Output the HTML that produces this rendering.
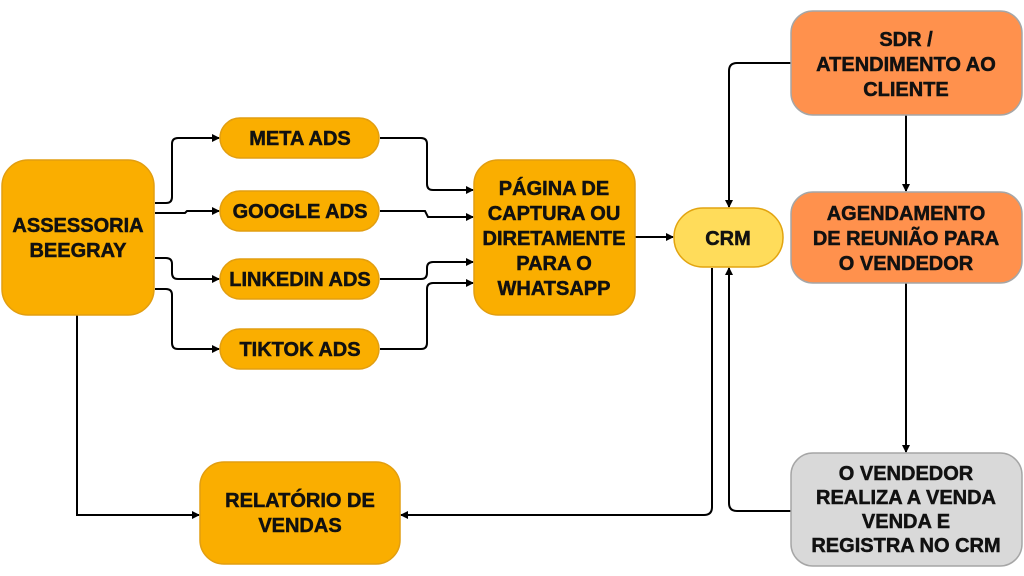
<!DOCTYPE html>
<html><head><meta charset="utf-8"><style>
html,body{margin:0;padding:0;background:#fff;width:1024px;height:576px;overflow:hidden}
text{font-family:"Liberation Sans",sans-serif;font-weight:bold;font-size:20px;fill:#111;stroke:#111;stroke-width:0.5;text-anchor:middle}
</style></head><body>
<svg width="1024" height="576" viewBox="0 0 1024 576" xmlns="http://www.w3.org/2000/svg">
<defs><marker id="a" markerWidth="8" markerHeight="8" refX="7" refY="4" orient="auto" markerUnits="userSpaceOnUse"><path d="M0,0 L8,4 L0,8z" fill="#000"/></marker></defs>
<g fill="none" stroke="#000" stroke-width="2" marker-end="url(#a)">
<path d="M155,203 H166 Q172,203 172,197 V144 Q172,138 178,138 H219"/>
<path d="M155,213 H185 L187,211 H219"/>
<path d="M155,258 H166 Q172,258 172,264 V273 Q172,279 178,279 H219"/>
<path d="M155,289 H166 Q172,289 172,295 V343 Q172,349 178,349 H219"/>
<path d="M380,138 H421 Q427,138 427,144 V184 Q427,190 433,190 H473"/>
<path d="M380,211 H425 L428,217 H473"/>
<path d="M380,279 H421 Q427,279 427,273 V268 Q427,262 433,262 H473"/>
<path d="M380,349 H421 Q427,349 427,343 V289 Q427,283 433,283 H473"/>
<path d="M635,237 H673"/>
<path d="M791,63 H737 Q729,63 729,71 V207"/>
<path d="M906,115 V191"/>
<path d="M906,283 V452"/>
<path d="M791,511 H737 Q729,511 729,503 V268"/>
<path d="M712,268 V507 Q712,515 704,515 H401"/>
<path d="M77,315 V515 H199"/>
</g>
<g stroke-width="1.5">
<rect x="2" y="160" width="152" height="155" rx="26" fill="#FAAE00" stroke="#E29E10"/>
<rect x="220" y="118" width="159" height="40" rx="20" fill="#FAAE00" stroke="#E29E10"/>
<rect x="220" y="191" width="159" height="40" rx="20" fill="#FAAE00" stroke="#E29E10"/>
<rect x="220" y="259" width="159" height="40" rx="20" fill="#FAAE00" stroke="#E29E10"/>
<rect x="220" y="329" width="159" height="40" rx="20" fill="#FAAE00" stroke="#E29E10"/>
<rect x="474" y="160" width="161" height="155" rx="24" fill="#FAAE00" stroke="#E29E10"/>
<rect x="674" y="208" width="109" height="59" rx="29" fill="#FFDC5A" stroke="#E2A410"/>
<rect x="791" y="11" width="231" height="104" rx="22" fill="#FF914D" stroke="#A6A6A6"/>
<rect x="791" y="192" width="231" height="91" rx="22" fill="#FF914D" stroke="#A6A6A6"/>
<rect x="791" y="453" width="231" height="113" rx="22" fill="#D9D9D9" stroke="#A6A6A6"/>
<rect x="200" y="462" width="200" height="102" rx="24" fill="#FAAE00" stroke="#E29E10"/>
</g>
<text x="78" y="232">ASSESSORIA</text><text x="78" y="257">BEEGRAY</text>
<text x="300" y="145">META ADS</text>
<text x="300" y="218">GOOGLE ADS</text>
<text x="300" y="286">LINKEDIN ADS</text>
<text x="300" y="356">TIKTOK ADS</text>
<text x="554" y="195">PÁGINA DE</text><text x="554" y="220">CAPTURA OU</text><text x="554" y="245">DIRETAMENTE</text><text x="554" y="270">PARA O</text><text x="554" y="295">WHATSAPP</text>
<text x="728" y="245">CRM</text>
<text x="906" y="46">SDR /</text><text x="906" y="71">ATENDIMENTO AO</text><text x="906" y="96">CLIENTE</text>
<text x="906" y="220">AGENDAMENTO</text><text x="906" y="245">DE REUNIÃO PARA</text><text x="906" y="270">O VENDEDOR</text>
<text x="906" y="480">O VENDEDOR</text><text x="906" y="504">REALIZA A VENDA</text><text x="906" y="528">VENDA E</text><text x="906" y="552">REGISTRA NO CRM</text>
<text x="300" y="507">RELATÓRIO DE</text><text x="300" y="532">VENDAS</text>
</svg>
</body></html>
